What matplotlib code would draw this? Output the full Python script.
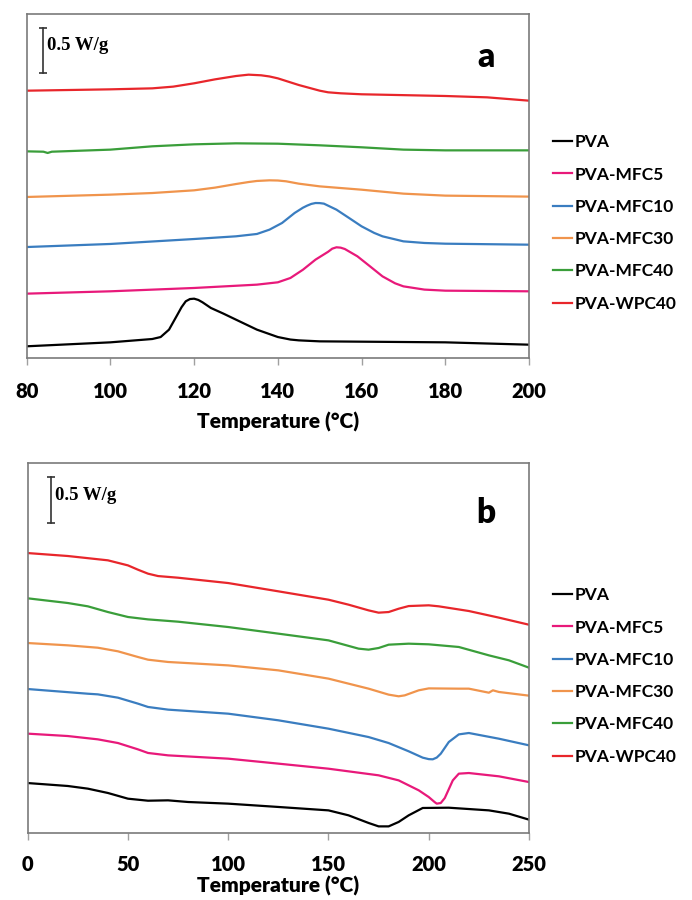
import numpy as np
import matplotlib
matplotlib.use("Agg")
from matplotlib import pyplot as plt

# DSC traces, heat flow in W/g (curves shifted vertically, as in the figure)
labels = ["PVA", "PVA-MFC5", "PVA-MFC10", "PVA-MFC30", "PVA-MFC40", "PVA-WPC40"]
colors = ["#000000", "#e8197a", "#3a7dc0", "#f0944c", "#3a9e3a", "#e8262b"]

# --- panel a : 80-200 C ---
t_pva_a = [80, 100, 110, 112, 114, 116, 117, 118, 119, 120, 121, 122, 124, 127, 130, 135, 140, 143,
           145, 150, 180, 200]
h_pva_a = [0.130, 0.174, 0.211, 0.233, 0.315, 0.481, 0.565, 0.630, 0.655, 0.659, 0.645, 0.619,
           0.556, 0.493, 0.426, 0.315, 0.233, 0.205, 0.196, 0.185, 0.174, 0.148]

t_mfc5_a = [80, 100, 120, 135, 140, 143, 146, 149, 152, 153, 154, 155, 156, 159, 162, 165, 168,
            170, 175, 180, 200]
h_mfc5_a = [0.715, 0.741, 0.778, 0.815, 0.841, 0.889, 0.981, 1.093, 1.180, 1.215, 1.230, 1.226,
            1.211, 1.130, 1.019, 0.907, 0.830, 0.796, 0.760, 0.748, 0.741]

t_mfc10_a = [80, 100, 120, 130, 135, 138, 141, 144, 146, 147, 148, 149, 150, 151, 154, 157, 160,
             163, 165, 170, 175, 180, 200]
h_mfc10_a = [1.233, 1.267, 1.322, 1.352, 1.378, 1.426, 1.500, 1.611, 1.670, 1.693, 1.712, 1.722,
             1.721, 1.715, 1.648, 1.556, 1.463, 1.390, 1.352, 1.296, 1.278, 1.270, 1.259]

t_mfc30_a = [80, 100, 110, 120, 125, 130, 133, 135, 138, 140, 142, 145, 150, 160, 170, 180, 200]
h_mfc30_a = [1.789, 1.815, 1.833, 1.863, 1.893, 1.933, 1.955, 1.967, 1.974, 1.972, 1.963, 1.937,
             1.907, 1.870, 1.826, 1.804, 1.793]

t_mfc40_a = [80, 84, 85, 86, 100, 110, 120, 130, 140, 150, 160, 170, 180, 200]
h_mfc40_a = [2.296, 2.292, 2.278, 2.292, 2.315, 2.352, 2.374, 2.385, 2.381, 2.363, 2.341, 2.315,
             2.307, 2.307]

t_wpc40_a = [80, 100, 110, 115, 120, 125, 130, 133, 136, 138, 140, 145, 150, 152, 155, 160, 180,
             190, 200]
h_wpc40_a = [2.970, 2.985, 2.996, 3.015, 3.052, 3.096, 3.133, 3.148, 3.141, 3.128, 3.107, 3.033,
             2.970, 2.952, 2.941, 2.930, 2.911, 2.896, 2.859]

# --- panel b : 0-250 C ---
t_pva_b = [0, 20, 30, 40, 50, 60, 70, 80, 100, 125, 150, 160, 170, 175, 180, 185, 190, 197, 210,
           230, 240, 250]
h_pva_b = [0.543, 0.511, 0.482, 0.435, 0.373, 0.351, 0.355, 0.337, 0.319, 0.283, 0.246, 0.192,
           0.109, 0.072, 0.072, 0.120, 0.192, 0.272, 0.275, 0.246, 0.210, 0.145]

t_mfc5_b = [0, 20, 35, 45, 55, 60, 70, 100, 125, 150, 175, 185, 195, 200, 203, 204, 206, 208, 209,
            212, 215, 220, 235, 250]
h_mfc5_b = [1.080, 1.054, 1.018, 0.978, 0.909, 0.870, 0.844, 0.808, 0.754, 0.699, 0.627, 0.572,
            0.464, 0.391, 0.335, 0.319, 0.326, 0.380, 0.428, 0.572, 0.645, 0.652, 0.616, 0.554]

t_mfc10_b = [0, 30, 35, 45, 55, 60, 70, 100, 125, 150, 170, 180, 190, 197, 200, 202, 204, 206,
             210, 215, 220, 235, 250]
h_mfc10_b = [1.565, 1.514, 1.507, 1.471, 1.406, 1.370, 1.341, 1.297, 1.225, 1.134, 1.043, 0.978,
             0.888, 0.819, 0.803, 0.801, 0.820, 0.862, 0.989, 1.072, 1.087, 1.025, 0.953]

t_mfc30_b = [0, 20, 35, 45, 55, 60, 70, 100, 125, 150, 170, 180, 185, 188, 195, 200, 215, 220,
             230, 232, 235, 250]
h_mfc30_b = [2.065, 2.040, 2.014, 1.975, 1.913, 1.884, 1.859, 1.822, 1.768, 1.678, 1.569, 1.504,
             1.486, 1.496, 1.551, 1.572, 1.569, 1.569, 1.525, 1.551, 1.533, 1.493]

t_mfc40_b = [0, 20, 30, 40, 50, 60, 75, 100, 125, 150, 165, 170, 175, 180, 190, 200, 215, 230,
             240, 250]
h_mfc40_b = [2.551, 2.500, 2.464, 2.402, 2.348, 2.322, 2.297, 2.239, 2.167, 2.094, 2.004, 1.993,
             2.011, 2.047, 2.058, 2.051, 2.022, 1.931, 1.877, 1.797]

t_wpc40_b = [0, 20, 40, 50, 55, 60, 65, 75, 100, 125, 150, 160, 170, 175, 180, 185, 190, 200, 205,
             220, 235, 250]
h_wpc40_b = [3.043, 3.011, 2.964, 2.909, 2.862, 2.819, 2.793, 2.775, 2.717, 2.627, 2.536, 2.482,
             2.420, 2.395, 2.402, 2.438, 2.467, 2.475, 2.464, 2.413, 2.341, 2.264]

scale_bar = 0.5  # W/g

panel_a = [(t_pva_a, h_pva_a), (t_mfc5_a, h_mfc5_a), (t_mfc10_a, h_mfc10_a),
           (t_mfc30_a, h_mfc30_a), (t_mfc40_a, h_mfc40_a), (t_wpc40_a, h_wpc40_a)]
panel_b = [(t_pva_b, h_pva_b), (t_mfc5_b, h_mfc5_b), (t_mfc10_b, h_mfc10_b),
           (t_mfc30_b, h_mfc30_b), (t_mfc40_b, h_mfc40_b), (t_wpc40_b, h_wpc40_b)]

plt.rcParams['font.family'] = ['Lato', 'DejaVu Sans']
W, H = 692, 900
fig = plt.figure(figsize=(W / 100, H / 100), dpi=100)

ax_a = fig.add_axes([26.7 / W, 1 - 358 / H, (529 - 26.7) / W, (358 - 14) / H])
ax_b = fig.add_axes([27.7 / W, 1 - 833 / H, (529 - 27.7) / W, (833 - 463) / H])


def draw_panel(ax, curves, xlim, ylim, xticks, letter, letter_y, bar_x, bar_y, leg_y,
               tickpad, labelpad):
    for (t, h), c, lab in zip(curves, colors, labels):
        ax.plot(t, h, color=c, lw=1.6, label=lab, solid_joinstyle='round')
    ax.set_xlim(*xlim)
    ax.set_ylim(*ylim)
    ax.set_xticks(xticks)
    ax.set_yticks([])
    for s in ax.spines.values():
        s.set_color('#7a7a7a')
        s.set_linewidth(1.2)
    ax.tick_params(axis='x', direction='out', length=5, width=1, color='#a0a0a0',
                   pad=tickpad, labelsize=14.5)
    for lbl in ax.get_xticklabels():
        lbl.set_fontweight('heavy')
    ax.set_xlabel('Temperature (°C)', fontsize=15, fontweight='heavy', labelpad=labelpad)
    ax.text(0.914, letter_y, letter, transform=ax.transAxes, fontsize=24,
            fontweight='heavy', ha='center', va='center')
    # scale bar
    ax.plot([bar_x, bar_x], [bar_y, bar_y + scale_bar], color='#333333', lw=1.2,
            marker='_', ms=6, mew=1.2)
    ax.text(bar_x + (xlim[1] - xlim[0]) * 0.008, bar_y + scale_bar * 0.6, '0.5 W/g',
            fontsize=13.5, fontweight='bold', family='Liberation Serif', va='center')
    ax.legend(loc='center left', bbox_to_anchor=(553 / W, leg_y), bbox_transform=fig.transFigure,
              frameon=False, borderpad=0, borderaxespad=0, handlelength=1.1,
              handletextpad=0.15, labelspacing=0.94,
              prop={'size': 12.5, 'weight': 'bold'})


draw_panel(ax_a, panel_a, (80, 200), (0, 3.822), range(80, 201, 20), 'a', 0.875, 83.9, 3.167,
           1 - 223 / H, 12.5, 8)
draw_panel(ax_b, panel_b, (0, 250), (0, 4.022), range(0, 251, 50), 'b', 0.865, 11.5, 3.37,
           1 - 676 / H, 11, 1.5)

fig.savefig('out.png', dpi=100)
